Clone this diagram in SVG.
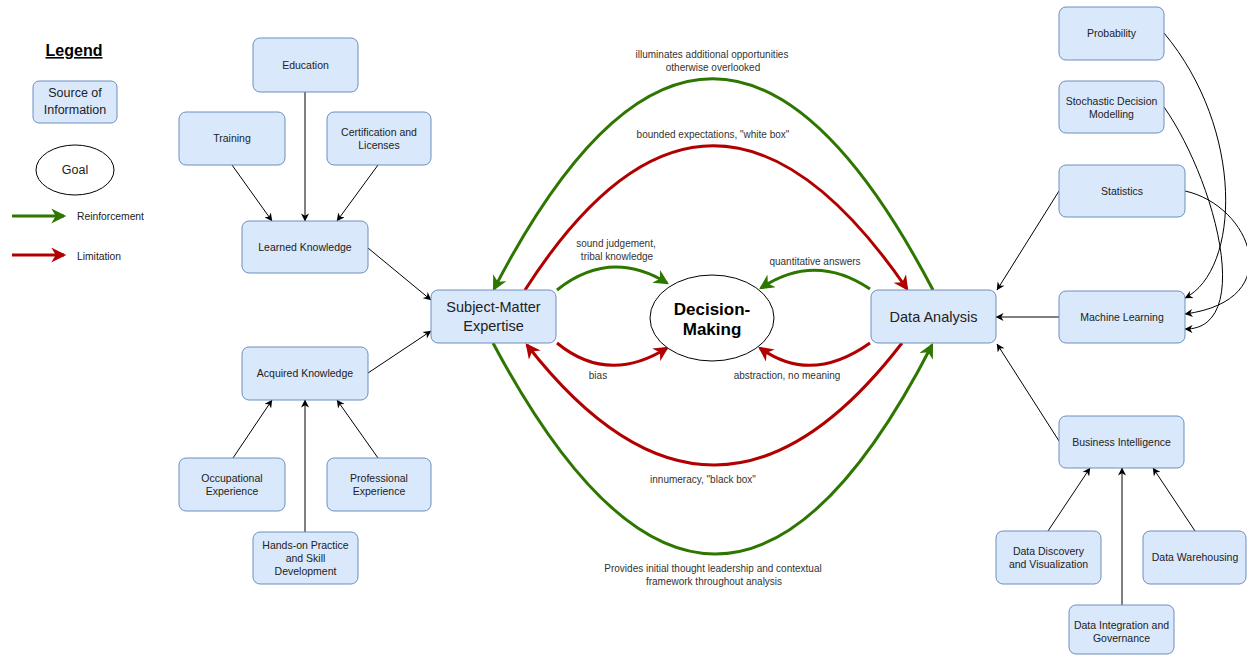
<svg xmlns="http://www.w3.org/2000/svg" width="1247" height="655" viewBox="0 0 1247 655">
<style>
  .box { fill: #dae8fc; stroke: #6c8ebf; stroke-width: 1; }
  .ell { fill: #ffffff; stroke: #000000; stroke-width: 1; }
  .t { font-family: "Liberation Sans", Arial, sans-serif; font-size: 10.5px; fill: #222222; text-anchor: middle; }
  .big { font-size: 14.5px; }
  .dm { font-size: 17px; font-weight: bold; fill: #000000; }
  .lbl { font-family: "Liberation Sans", Arial, sans-serif; font-size: 10px; fill: #333333; text-anchor: middle; }
  .leg { font-family: "Liberation Sans", Arial, sans-serif; font-size: 10.3px; fill: #222222; }
  .blk { fill: none; stroke: #000000; stroke-width: 1; marker-end: url(#ab); }
  .grn { fill: none; stroke: #2D7600; stroke-width: 3; marker-end: url(#ag); }
  .red { fill: none; stroke: #B20000; stroke-width: 3; marker-end: url(#ar); }
</style>
<defs>
  <marker id="ab" viewBox="0 0 10 10" refX="9.5" refY="5" markerUnits="userSpaceOnUse" markerWidth="9" markerHeight="8" orient="auto">
    <path d="M0,0 L10,5 L0,10 L3,5 z" fill="#000000"/>
  </marker>
  <marker id="ag" viewBox="0 0 10 10" refX="8.5" refY="5" markerUnits="userSpaceOnUse" markerWidth="16" markerHeight="15" orient="auto">
    <path d="M0,0 L10,5 L0,10 L3,5 z" fill="#2D7600"/>
  </marker>
  <marker id="ar" viewBox="0 0 10 10" refX="8.5" refY="5" markerUnits="userSpaceOnUse" markerWidth="16" markerHeight="15" orient="auto">
    <path d="M0,0 L10,5 L0,10 L3,5 z" fill="#B20000"/>
  </marker>
</defs>
<rect x="0" y="0" width="1247" height="655" fill="#ffffff"/>

<g id="legend">
  <text x="74" y="56" class="t" style="font-size:16px;font-weight:bold;fill:#000;text-decoration:underline">Legend</text>
  <rect x="33" y="81" width="84" height="42" rx="6" class="box"/>
  <text x="75" y="97" class="t" style="font-size:12.5px">Source of</text>
  <text x="75" y="114" class="t" style="font-size:12.5px">Information</text>
  <ellipse cx="75" cy="170" rx="39" ry="25" class="ell"/>
  <text x="75" y="174" class="t" style="font-size:12.5px">Goal</text>
  <path d="M12,216 L64,216" class="grn"/>
  <path d="M12,255 L64,255" class="red"/>
  <text x="77" y="220" class="leg">Reinforcement</text>
  <text x="77" y="260" class="leg">Limitation</text>
</g>

<g id="connectors">
  <path d="M232,165 L272,221" class="blk"/>
  <path d="M305,92 L305,221" class="blk"/>
  <path d="M378,165 L337,221" class="blk"/>
  <path d="M368,248 L431,300" class="blk"/>
  <path d="M368,373 L431,331" class="blk"/>
  <path d="M233,458 L272,400" class="blk"/>
  <path d="M305,532 L305,400" class="blk"/>
  <path d="M378,458 L337,400" class="blk"/>
  <path d="M1059,191 L997,290" class="blk"/>
  <path d="M1059,317 L996,317" class="blk"/>
  <path d="M1059,441 L997,344" class="blk"/>
  <path d="M1048,531 L1090,468" class="blk"/>
  <path d="M1122,605 L1122,468" class="blk"/>
  <path d="M1195,531 L1153,468" class="blk"/>
  <path d="M1164,33 C1245,130 1240,270 1185,298" class="blk"/>
  <path d="M1164,107 C1215,180 1255,330 1185,329" class="blk"/>
  <path d="M1185,191 C1250,205 1290,300 1185,314" class="blk"/>

  <path d="M933,290 Q712,-132 494,289" class="grn"/>
  <path d="M525,290 Q710,2 907,289" class="red"/>
  <path d="M902,343 Q715,586 527,345" class="red"/>
  <path d="M493,343 Q717,764 932,345" class="grn"/>

  <path d="M557,290 Q610,248 667,283" class="grn"/>
  <path d="M870,289 Q815,252 761,288" class="grn"/>
  <path d="M557,343 Q608,385 667,348" class="red"/>
  <path d="M870,343 Q811,385 760,348" class="red"/>

  <text x="712" y="57.5" class="lbl">illuminates additional opportunities</text>
  <text x="713" y="70.5" class="lbl">otherwise overlooked</text>
  <text x="713" y="137.5" class="lbl">bounded expectations, "white box"</text>
  <text x="616" y="246.5" class="lbl">sound judgement,</text>
  <text x="617" y="259.5" class="lbl">tribal knowledge</text>
  <text x="815" y="264.5" class="lbl">quantitative answers</text>
  <text x="598" y="378.5" class="lbl">bias</text>
  <text x="787" y="378.5" class="lbl">abstraction, no meaning</text>
  <text x="703" y="482.5" class="lbl">innumeracy, "black box"</text>
  <text x="713" y="571.5" class="lbl">Provides initial thought leadership and contextual</text>
  <text x="714" y="584.5" class="lbl">framework throughout analysis</text>
</g>

<g id="education"><rect x="253" y="38" width="105" height="54" rx="7" class="box"/><text x="305.5" y="68.7" class="t">Education</text></g>
<g id="training"><rect x="179" y="112" width="106" height="53" rx="7" class="box"/><text x="232" y="142.2" class="t">Training</text></g>
<g id="certification"><rect x="327" y="112" width="104" height="53" rx="7" class="box"/><text x="379" y="135.7" class="t">Certification and</text><text x="379" y="148.7" class="t">Licenses</text></g>
<g id="learned"><rect x="242" y="221" width="126" height="52" rx="7" class="box"/><text x="305" y="250.7" class="t">Learned Knowledge</text></g>
<g id="sme"><rect x="431" y="290" width="125" height="53" rx="7" class="box"/><text x="493.5" y="312.1" class="t big">Subject-Matter</text><text x="493.5" y="331.1" class="t big">Expertise</text></g>
<g id="acquired"><rect x="242" y="347" width="126" height="53" rx="7" class="box"/><text x="305" y="377.2" class="t">Acquired Knowledge</text></g>
<g id="occupational"><rect x="179" y="458" width="106" height="53" rx="7" class="box"/><text x="232" y="481.7" class="t">Occupational</text><text x="232" y="494.7" class="t">Experience</text></g>
<g id="professional"><rect x="327" y="458" width="104" height="53" rx="7" class="box"/><text x="379" y="481.7" class="t">Professional</text><text x="379" y="494.7" class="t">Experience</text></g>
<g id="handson"><rect x="253" y="532" width="105" height="52" rx="7" class="box"/><text x="305.5" y="548.7" class="t">Hands-on Practice</text><text x="305.5" y="561.7" class="t">and Skill</text><text x="305.5" y="574.7" class="t">Development</text></g>
<g id="decision"><ellipse cx="712" cy="318" rx="62" ry="43" class="ell"/><text x="712" y="315" class="t dm">Decision-</text><text x="712" y="335" class="t dm">Making</text></g>
<g id="dataanalysis"><rect x="871" y="290" width="125" height="53" rx="7" class="box"/><text x="933.5" y="322" class="t big">Data Analysis</text></g>
<g id="probability"><rect x="1059" y="7" width="105" height="53" rx="7" class="box"/><text x="1111.5" y="37.2" class="t">Probability</text></g>
<g id="stochastic"><rect x="1059" y="81" width="105" height="52" rx="7" class="box"/><text x="1111.5" y="104.7" class="t">Stochastic Decision</text><text x="1111.5" y="117.7" class="t">Modelling</text></g>
<g id="statistics"><rect x="1059" y="165" width="126" height="52" rx="7" class="box"/><text x="1122" y="194.7" class="t">Statistics</text></g>
<g id="ml"><rect x="1059" y="291" width="126" height="52" rx="7" class="box"/><text x="1122" y="320.7" class="t">Machine Learning</text></g>
<g id="bi"><rect x="1059" y="416" width="125" height="52" rx="7" class="box"/><text x="1121.5" y="445.7" class="t">Business Intelligence</text></g>
<g id="discovery"><rect x="996" y="531" width="105" height="53" rx="7" class="box"/><text x="1048.5" y="554.7" class="t">Data Discovery</text><text x="1048.5" y="567.7" class="t">and Visualization</text></g>
<g id="warehousing"><rect x="1143" y="531" width="103" height="53" rx="7" class="box"/><text x="1195" y="561.2" class="t">Data Warehousing</text></g>
<g id="integration"><rect x="1069" y="605" width="105" height="49" rx="7" class="box"/><text x="1121.5" y="628.7" class="t">Data Integration and</text><text x="1121.5" y="641.7" class="t">Governance</text></g>
</svg>
